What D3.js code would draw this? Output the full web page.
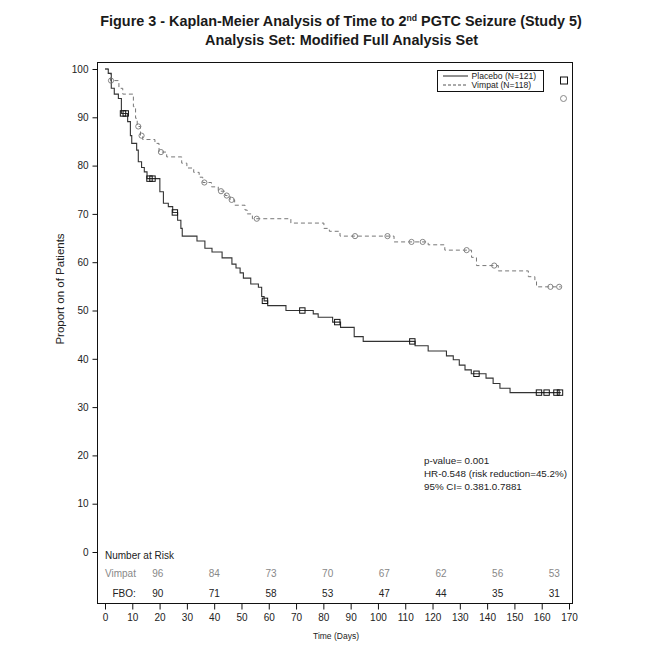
<!DOCTYPE html>
<html><head><meta charset="utf-8">
<script src="https://cdn.jsdelivr.net/npm/d3@7"></script>
<style>body{margin:0;background:#fff} text{font-family:"Liberation Sans",Arial,sans-serif}</style>
</head><body><svg id="c" width="661" height="645"></svg>
<script>
// ---- data ----
const placeboSteps = [[0,100],[1.2,99.1],[2.3,96.0],[3.4,94.8],[4.9,93.9],[6.0,90.8],[8.3,89.1],[9.3,86.2],[9.8,84.6],[11.6,83.2],[12.2,80.8],[13.4,79.6],[14.4,78.7],[15.4,77.3],[20.1,74.6],[21.4,72.2],[23.2,71.5],[24.8,70.3],[26.6,68.7],[27.8,67.0],[28.3,65.4],[33.7,64.4],[36.6,62.9],[39.2,62.1],[42.9,60.9],[46.5,59.6],[48.0,58.8],[49.5,57.8],[50.7,56.7],[53.4,55.5],[56.2,54.8],[57.4,52.9],[58.3,52.0],[59.6,51.0],[66.3,50.0],[76.3,49.3],[78.1,48.6],[83.4,47.6],[86.3,46.5],[91.3,44.6],[94.6,43.6],[113.6,42.7],[118.4,41.6],[125.1,40.6],[127.6,39.8],[129.8,38.7],[131.9,37.7],[134.2,36.9],[139.6,36.0],[142.2,34.9],[144.7,33.9],[148.4,33.0]];
const placeboCensored = [6.6,7.6,16.3,17.4,25.6,58.6,72.3,85.1,112.6,136.1,159.0,161.8,165.4,166.7];
const vimpatSteps = [[0,100],[1.2,99.1],[2.0,97.6],[5.1,96.0],[6.5,94.8],[10.4,92.2],[11.2,89.8],[11.8,88.1],[13.0,86.2],[13.8,85.4],[18.3,84.6],[19.8,82.8],[22.6,81.8],[28.1,80.5],[30.0,79.5],[32.5,78.6],[34.5,77.6],[35.8,76.5],[39.0,75.6],[41.5,74.7],[44.0,73.8],[45.8,72.9],[47.5,71.8],[51.3,70.8],[52.1,70.0],[54.0,69.0],[68.1,68.1],[80.2,67.0],[82.2,66.4],[86.1,65.4],[105.9,64.2],[118.4,63.6],[124.5,62.5],[134.3,61.0],[136.1,59.3],[144.1,58.2],[155.1,57.0],[157.5,56.0],[158.1,54.9]];
const vimpatCensored = [2.2,12.2,13.4,20.5,36.4,42.5,44.6,46.4,55.6,91.6,103.5,112.3,116.4,132.5,142.6,163.2,166.4];
const endTime = 167;
const xTicks = d3.range(0, 171, 10);
const yTicks = d3.range(0, 101, 10);
const riskVimpat = [96,84,73,70,67,62,56,53];
const riskFBO = [90,71,58,53,47,44,35,31];
const seriesNames = ["Placebo (N=121)", "Vimpat (N=118)"];
const statsLines = ["p-value= 0.001", "HR-0.548 (risk reduction=45.2%)", "95% CI= 0.381.0.7881"];

// ---- drawing ----
const svg = d3.select("#c");
svg.append("rect").attr("width",661).attr("height",645).attr("fill","#fff");

const x = d3.scaleLinear([0,170],[105,569]);
const y = d3.scaleLinear([0,100],[552,69]);

// title
function fitText(sel, cx, target){
  const w = sel.node().getComputedTextLength();
  sel.attr("text-anchor","middle").attr("x",0)
     .attr("transform",`translate(${cx},${sel.attr("data-y")}) scale(${target/w},1)`).attr("y",0);
}
const t1 = svg.append("text").attr("data-y",25.5).attr("font-size",15).attr("font-weight","bold").attr("fill","#1a1a1a");
t1.append("tspan").text("Figure 3 - Kaplan-Meier Analysis of Time to 2");
t1.append("tspan").attr("font-size",9).attr("dy",-5).text("nd");
t1.append("tspan").attr("dy",5).text(" PGTC Seizure (Study 5)");
fitText(t1, 341, 482);
const t2 = svg.append("text").attr("data-y",45).attr("font-size",15).attr("font-weight","bold").attr("fill","#1a1a1a")
  .text("Analysis Set: Modified Full Analysis Set");
fitText(t2, 341.5, 273);

// frame
svg.append("rect").attr("x",97.5).attr("y",62.5).attr("width",475).attr("height",541)
  .attr("fill","none").attr("stroke","#111").attr("stroke-width",1);

// axes
const yAxis = svg.append("g").attr("transform","translate(97.5,0)")
  .call(d3.axisLeft(y).tickValues(yTicks).tickSize(5).tickPadding(4));
yAxis.select(".domain").remove();
yAxis.selectAll("text").attr("font-size",10).attr("fill","#222").style("font-family","'Liberation Sans',Arial,sans-serif");
yAxis.selectAll("line").attr("stroke","#111");

const xAxis = svg.append("g").attr("transform","translate(0,603.5)")
  .call(d3.axisBottom(x).tickValues(xTicks).tickSize(6).tickPadding(4));
xAxis.select(".domain").remove();
xAxis.selectAll("text").attr("font-size",10).attr("fill","#222").style("font-family","'Liberation Sans',Arial,sans-serif");
xAxis.selectAll("line").attr("stroke","#111");

svg.append("text").attr("x",336).attr("y",638.5).attr("text-anchor","middle").attr("font-size",8.5).attr("fill","#222").text("Time (Days)");
svg.append("text").attr("transform","translate(64,289) rotate(-90)").attr("text-anchor","middle")
  .attr("font-size",11.5).attr("fill","#222").text("Proport on of Patients");

// curves
function stepAt(steps, t){ let v = steps[0][1]; for (const s of steps) if (s[0] <= t) v = s[1]; return v; }
const line = d3.line().x(d=>x(d[0])).y(d=>y(d[1])).curve(d3.curveStepAfter);
function full(steps){ return steps.concat([[endTime, steps[steps.length-1][1]]]); }

svg.append("path").datum(full(vimpatSteps)).attr("d",line).attr("fill","none")
  .attr("stroke","#777").attr("stroke-width",1).attr("stroke-dasharray","4,3");
svg.append("path").datum(full(placeboSteps)).attr("d",line).attr("fill","none")
  .attr("stroke","#333").attr("stroke-width",1.1);

svg.selectAll("circle.cv").data(vimpatCensored).join("circle").attr("class","cv")
  .attr("cx",d=>x(d)).attr("cy",d=>y(stepAt(vimpatSteps,d))).attr("r",2.6)
  .attr("fill","none").attr("stroke","#777").attr("stroke-width",0.9);
svg.selectAll("rect.cp").data(placeboCensored).join("rect").attr("class","cp")
  .attr("x",d=>x(d)-2.7).attr("y",d=>y(stepAt(placeboSteps,d))-2.7).attr("width",5.4).attr("height",5.4)
  .attr("fill","none").attr("stroke","#111").attr("stroke-width",1);

// legend
const lg = svg.append("g");
lg.append("rect").attr("x",437.5).attr("y",70.5).attr("width",106).attr("height",21).attr("fill","#fff").attr("stroke","#111");
lg.append("line").attr("x1",443).attr("x2",468).attr("y1",76).attr("y2",76).attr("stroke","#222");
lg.append("line").attr("x1",443).attr("x2",468).attr("y1",85).attr("y2",85).attr("stroke","#555").attr("stroke-dasharray","3,2");
lg.selectAll("text").data(seriesNames).join("text").attr("x",471.5).attr("y",(d,i)=>79+i*9.4)
  .attr("font-size",8.6).attr("fill","#222").text(d=>d);
svg.append("rect").attr("x",560.5).attr("y",77).attr("width",7).attr("height",7).attr("fill","none").attr("stroke","#111");
svg.append("circle").attr("cx",563.5).attr("cy",98.5).attr("r",3).attr("fill","none").attr("stroke","#888");

// stats
svg.selectAll("text.st").data(statsLines).join("text").attr("class","st").attr("x",424).attr("y",(d,i)=>463.5+i*13.3)
  .attr("font-size",9.8).attr("fill","#222").text(d=>d);

// number at risk
const rx = d3.scalePoint().domain(d3.range(riskVimpat.length)).range([157.7,554.3]);
svg.append("text").attr("x",105).attr("y",559).attr("font-size",10).attr("fill","#222").text("Number at Risk");
svg.append("text").attr("x",105).attr("y",577).attr("font-size",10).attr("fill","#888").text("Vimpat");
svg.append("text").attr("x",112.5).attr("y",597).attr("font-size",10).attr("fill","#222").text("FBO:");
svg.selectAll("text.rv").data(riskVimpat).join("text").attr("class","rv").attr("x",(d,i)=>rx(i)).attr("y",577)
  .attr("text-anchor","middle").attr("font-size",10).attr("fill","#888").text(d=>d);
svg.selectAll("text.rf").data(riskFBO).join("text").attr("class","rf").attr("x",(d,i)=>rx(i)).attr("y",597)
  .attr("text-anchor","middle").attr("font-size",10).attr("fill","#222").text(d=>d);
</script></body></html>
